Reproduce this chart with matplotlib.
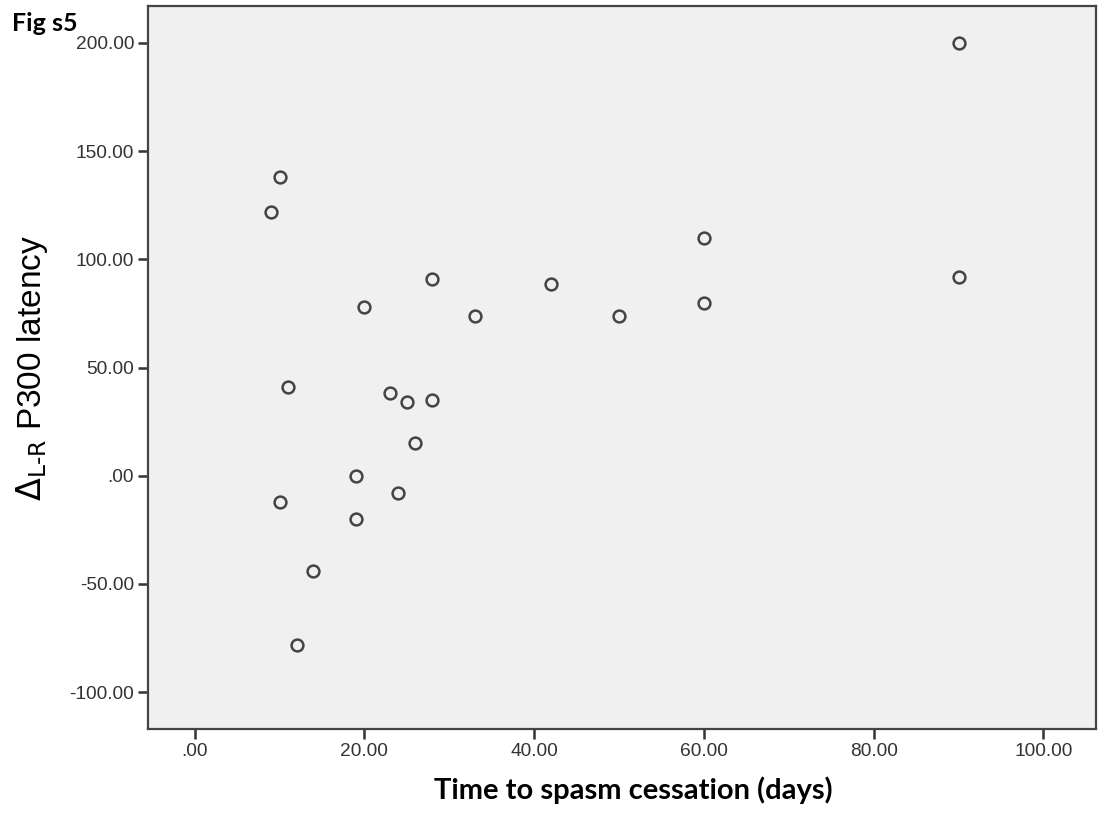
import matplotlib.pyplot as plt

# Time to spasm cessation (days) vs. L-R difference in P300 latency
days = [9, 10, 11, 10, 12, 14, 19, 19, 20, 23, 25, 24, 26, 28, 28, 33, 42, 50, 60, 60, 90, 90]
delta_latency = [122, 138, 41, -12, -78, -44, 0, -20, 78, 38, 34, -8, 15, 91, 35, 74, 88.5, 74, 110, 80, 200, 92]

x_ticks = [0, 20, 40, 60, 80, 100]
y_ticks = [-100, -50, 0, 50, 100, 150, 200]


def fmt(v):
    s = f"{v:.2f}"
    if s.startswith("0."):
        s = s[1:]
    return s


fig = plt.figure(figsize=(11.01, 8.14), dpi=100)
ax = fig.add_axes([0.1344, 0.1044, 0.8611, 0.8882])
ax.set_facecolor("#f0f0f0")

ax.plot(days, delta_latency, linestyle="none", marker="o", markersize=8.5,
        markerfacecolor="#f0f0f0", markeredgecolor="#444444", markeredgewidth=1.8)

ax.set_xlim(-5.5, 106.2)
ax.set_ylim(-117, 217)
ax.set_xticks(x_ticks)
ax.set_xticklabels([fmt(v) for v in x_ticks])
ax.set_yticks(y_ticks)
ax.set_yticklabels([fmt(v) for v in y_ticks])

for side in ["left", "bottom", "right", "top"]:
    ax.spines[side].set_color("#444444")
    ax.spines[side].set_linewidth(1.6)

ax.tick_params(direction="out", length=7, width=1.8, color="#333333",
               labelsize=13.8, labelcolor="#333333", pad=3)
for lab in ax.get_xticklabels() + ax.get_yticklabels():
    lab.set_fontfamily("Liberation Sans")

ax.set_xlabel("Time to spasm cessation (days)", fontsize=21, fontweight="bold",
              fontfamily="Lato")
ax.xaxis.set_label_coords(0.512, -0.066)
ax.set_ylabel(r"$\Delta_{\mathrm{L\text{-}R}}$ P300 latency", fontsize=24,
              fontfamily="Liberation Sans", labelpad=14)

fig.text(0.011, 0.962, "Fig s5", fontsize=18, fontweight="bold", fontfamily="Lato")

fig.savefig("out.png", dpi=100)
